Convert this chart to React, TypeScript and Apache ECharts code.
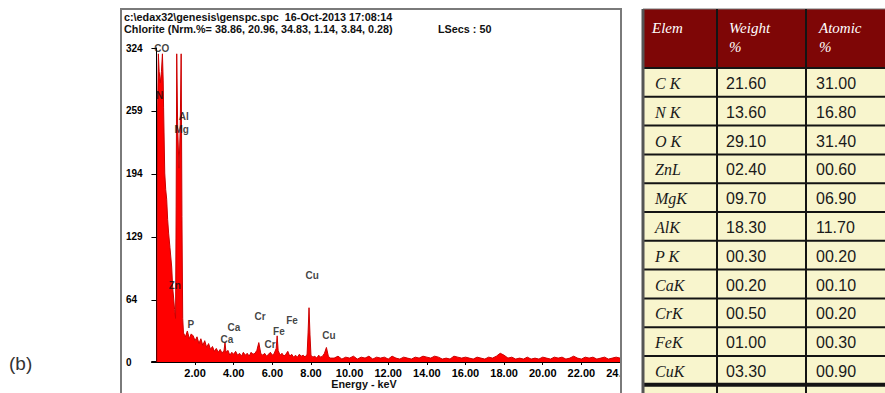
import React, { useEffect, useRef } from 'react';
import * as echarts from 'echarts';

// ---- Spectrum data (keV, counts) ----
const lowEnergyPeaks: [number, number][] = [
  [0.03, 0], [0.06, 260], [0.1, 318], [0.14, 300], [0.2, 288], [0.26, 300], [0.31, 318],
  [0.35, 290], [0.37, 263], [0.43, 195], [0.48, 178], [0.53, 168], [0.58, 147], [0.63, 133],
  [0.7, 118], [0.79, 98], [0.84, 77], [0.89, 66], [0.94, 54], [0.99, 45], [1.02, 160],
  [1.05, 318], [1.1, 240], [1.17, 200], [1.23, 240], [1.28, 318], [1.32, 150], [1.36, 45],
];
const midEnergyCounts: [number, number][] = [
  [1.4, 30], [1.5, 26], [1.6, 32], [1.7, 24], [1.8, 29], [1.9, 27], [2.0, 22], [2.1, 26],
  [2.2, 19], [2.3, 24], [2.4, 17], [2.5, 22], [2.6, 15], [2.7, 19], [2.8, 13], [2.9, 16],
  [3.0, 11], [3.1, 14], [3.2, 10], [3.3, 13], [3.4, 9], [3.5, 12], [3.55, 20], [3.6, 10],
  [3.7, 12], [3.8, 7], [3.9, 10], [4.0, 8], [4.1, 11], [4.2, 7], [4.3, 9], [4.4, 6],
  [4.5, 10], [4.6, 7], [4.7, 9], [4.8, 6], [4.9, 10], [5.0, 8], [5.1, 9], [5.2, 12],
  [5.3, 20], [5.4, 9], [5.5, 7], [5.6, 9], [5.7, 6], [5.8, 8], [5.9, 10], [6.0, 7],
  [6.1, 9], [6.2, 14], [6.25, 27], [6.3, 12], [6.4, 7], [6.5, 9], [6.6, 6], [6.7, 8],
  [6.8, 11], [6.9, 6], [7.0, 8], [7.1, 5], [7.2, 7], [7.3, 5], [7.4, 8], [7.5, 6],
  [7.6, 7], [7.7, 5], [7.8, 8], [7.85, 30], [7.9, 56], [7.95, 28], [8.0, 7], [8.1, 5],
  [8.2, 6], [8.3, 4], [8.4, 7], [8.5, 5], [8.6, 6], [8.7, 9], [8.8, 15], [8.9, 6], [9.0, 4],
];
const tailCounts: [number, number][] = [
  [9.2, 4], [9.4, 6], [9.6, 3], [9.8, 5], [10.0, 4], [10.2, 6], [10.4, 3], [10.6, 5],
  [10.8, 4], [11.0, 6], [11.2, 3], [11.4, 5], [11.6, 4], [11.8, 5], [12.0, 3], [12.2, 6],
  [12.4, 4], [12.6, 3], [12.8, 5], [13.0, 4], [13.2, 3], [13.4, 5], [13.6, 4], [13.8, 6],
  [14.0, 5], [14.2, 4], [14.4, 6], [14.6, 5], [14.8, 3], [15.0, 4], [15.2, 3], [15.4, 6],
  [15.6, 5], [15.8, 4], [16.0, 5], [16.2, 4], [16.4, 3], [16.6, 5], [16.8, 4], [17.0, 3],
  [17.2, 5], [17.4, 4], [17.6, 6], [17.8, 9], [18.0, 7], [18.2, 4], [18.4, 5], [18.6, 3],
  [18.8, 4], [19.0, 3], [19.2, 5], [19.4, 3], [19.6, 4], [19.8, 3], [20.0, 5], [20.2, 4],
  [20.4, 3], [20.6, 5], [20.8, 4], [21.0, 5], [21.2, 3], [21.4, 4], [21.6, 6], [21.8, 4],
  [22.0, 3], [22.2, 5], [22.4, 4], [22.6, 5], [22.8, 3], [23.0, 4], [23.2, 5], [23.4, 3],
  [23.6, 4], [23.8, 5], [24.0, 4],
];

const yTickValues = [0, 64, 129, 194, 259, 324];
const xTickValues = [2, 4, 6, 8, 10, 12, 14, 16, 18, 20, 22, 24];

const peakLabels = [
  { name: 'CO', value: [0.28, 324] },
  { name: 'N', value: [0.17, 275] },
  { name: 'Al', value: [1.41, 253] },
  { name: 'Mg', value: [1.31, 240] },
  { name: 'Zn', value: [0.95, 79] },
  { name: 'P', value: [1.78, 39] },
  { name: 'Ca', value: [4.01, 36] },
  { name: 'Ca', value: [3.65, 23] },
  { name: 'Cr', value: [5.36, 47] },
  { name: 'Cr', value: [5.88, 18] },
  { name: 'Fe', value: [7.02, 43] },
  { name: 'Fe', value: [6.34, 31] },
  { name: 'Cu', value: [8.06, 89] },
  { name: 'Cu', value: [8.93, 27] },
];

const headerLine1 = 'c:\\edax32\\genesis\\genspc.spc  16-Oct-2013 17:08:14';
const headerLine2 = 'Chlorite (Nrm.%= 38.86, 20.96, 34.83, 1.14, 3.84, 0.28)';
const liveSecs = 'LSecs : 50';
const xAxisTitle = 'Energy - keV';
const panelLabel = '(b)';

// ---- Table data ----
const tableHeaders = [['Elem'], ['Weight', '%'], ['Atomic', '%']];
const elements = ['C K', 'N K', 'O K', 'ZnL', 'MgK', 'AlK', 'P K', 'CaK', 'CrK', 'FeK', 'CuK'];
const weightPct = [21.6, 13.6, 29.1, 2.4, 9.7, 18.3, 0.3, 0.2, 0.5, 1.0, 3.3];
const atomicPct = [31.0, 16.8, 31.4, 0.6, 6.9, 11.7, 0.2, 0.1, 0.2, 0.3, 0.9];

const fmt = (v: number) => v.toFixed(2).padStart(5, '0');

function buildTable(): any[] {
  const left = 643;
  const right = 892;
  const colX = [643, 717, 806];
  const top = 9;
  const headBottom = 68;
  const rowH = 28.8;
  const out: any[] = [];
  out.push({ type: 'rect', z: 100, shape: { x: left, y: top, width: right - left, height: headBottom - top }, style: { fill: '#7e0606' } });
  out.push({ type: 'rect', z: 100, shape: { x: left, y: headBottom, width: right - left, height: 400 - headBottom }, style: { fill: '#f8f5cd' } });
  for (let i = 0; i <= elements.length; i++) {
    const y = headBottom + i * rowH;
    const last = i === elements.length;
    out.push({ type: 'line', z: 101, shape: { x1: left, y1: y, x2: right, y2: y }, style: { stroke: '#141414', lineWidth: last ? 4 : 2 } });
  }
  out.push({ type: 'line', z: 101, shape: { x1: left, y1: top, x2: right, y2: top }, style: { stroke: '#777', lineWidth: 1 } });
  colX.forEach((x, i) => {
    out.push({ type: 'line', z: 101, shape: { x1: x, y1: top, x2: x, y2: 400 }, style: { stroke: i === 0 ? '#555' : '#141414', lineWidth: i === 0 ? 3 : 2 } });
  });
  const textX = [652, 729, 819];
  tableHeaders.forEach((lines, c) => {
    lines.forEach((t, k) => {
      out.push({ type: 'text', z: 102, x: textX[c], y: 28 + k * 19, style: { text: t, fill: '#ffffff', fontSize: 15, fontStyle: 'italic', fontFamily: 'Liberation Serif', verticalAlign: 'middle' } });
    });
  });
  elements.forEach((el, r) => {
    const cy = headBottom + r * rowH + rowH / 2 + 1;
    out.push({ type: 'text', z: 102, x: 655, y: cy, style: { text: el, fill: '#1a1a1a', fontSize: 16, fontStyle: 'italic', fontFamily: 'Liberation Serif', verticalAlign: 'middle' } });
    out.push({ type: 'text', z: 102, x: 726, y: cy, style: { text: fmt(weightPct[r]), fill: '#1a1a1a', fontSize: 16, fontFamily: 'Liberation Sans', verticalAlign: 'middle' } });
    out.push({ type: 'text', z: 102, x: 816, y: cy, style: { text: fmt(atomicPct[r]), fill: '#1a1a1a', fontSize: 16, fontFamily: 'Liberation Sans', verticalAlign: 'middle' } });
  });
  return out;
}

export default function App() {
  const ref = useRef<HTMLDivElement>(null);
  useEffect(() => {
    if (!ref.current) return;
    const chart = echarts.init(ref.current, undefined, { renderer: 'svg' });
    const spectrum = [...lowEnergyPeaks, ...midEnergyCounts, ...tailCounts];
    const headFont = { fontSize: 10.8, fontWeight: 'bold' as const, fontFamily: 'Liberation Sans', fill: '#111' };
    chart.setOption({
      animation: false,
      backgroundColor: '#ffffff',
      textStyle: { fontFamily: 'Liberation Sans' },
      grid: { left: 152, right: 265, top: 48, bottom: 31, containLabel: false },
      xAxis: {
        type: 'value',
        min: -0.23,
        max: 24,
        splitLine: { show: false },
        axisLine: { show: true, onZero: false, lineStyle: { color: '#000', width: 2 } },
        axisTick: { show: true, length: 3, customValues: xTickValues, lineStyle: { color: '#000' } },
        axisLabel: {
          customValues: xTickValues,
          formatter: (v: number) => v.toFixed(2),
          color: '#000',
          fontSize: 11,
          fontWeight: 'bold',
          margin: 5,
        },
      },
      yAxis: {
        type: 'value',
        min: 0,
        max: 324,
        splitLine: { show: false },
        axisLine: { show: true, lineStyle: { color: '#000', width: 1 } },
        axisTick: { show: true, length: 5, customValues: yTickValues, lineStyle: { color: '#000' } },
        axisLabel: {
          customValues: yTickValues,
          align: 'left',
          margin: 26,
          color: '#000',
          fontSize: 10,
          fontWeight: 'bold',
        },
      },
      series: [
        {
          type: 'line',
          data: spectrum,
          symbol: 'none',
          lineStyle: { color: '#cc0000', width: 1 },
          areaStyle: { color: '#ff0000', opacity: 1 },
          z: 2,
        },
        {
          type: 'scatter',
          data: peakLabels,
          symbolSize: 1,
          itemStyle: { color: 'rgba(0,0,0,0)' },
          clip: false,
          silent: true,
          z: 5,
          label: {
            show: true,
            position: 'inside',
            formatter: (p: any) => p.name,
            color: '#111',
            fontSize: 10,
            fontWeight: 'bold',
            fontFamily: 'Liberation Sans',
          },
        },
      ],
      graphic: [
        { type: 'rect', z: 100, shape: { x: 619.5, y: 366, width: 22, height: 30 }, style: { fill: '#ffffff' } },
        { type: 'rect', z: 100, shape: { x: 121, y: 9, width: 500, height: 400 }, style: { fill: 'none', stroke: '#7a7a7a', lineWidth: 2 } },
        { type: 'text', z: 100, x: 124, y: 17, style: { text: headerLine1, verticalAlign: 'middle', ...headFont } },
        { type: 'text', z: 100, x: 124, y: 28.5, style: { text: headerLine2, verticalAlign: 'middle', ...headFont } },
        { type: 'text', z: 100, x: 438, y: 28.5, style: { text: liveSecs, verticalAlign: 'middle', ...headFont } },
        { type: 'text', z: 100, x: 364, y: 384, style: { text: xAxisTitle, align: 'center', verticalAlign: 'middle', ...headFont } },
        { type: 'text', z: 100, x: 9, y: 363, style: { text: panelLabel, verticalAlign: 'middle', fontSize: 19, fontFamily: 'Liberation Sans', fill: '#333' } },
        ...buildTable(),
      ],
    });
    return () => chart.dispose();
  }, []);
  return <div ref={ref} style={{ position: 'absolute', left: 0, top: 0, width: 885, height: 393 }} />;
}
